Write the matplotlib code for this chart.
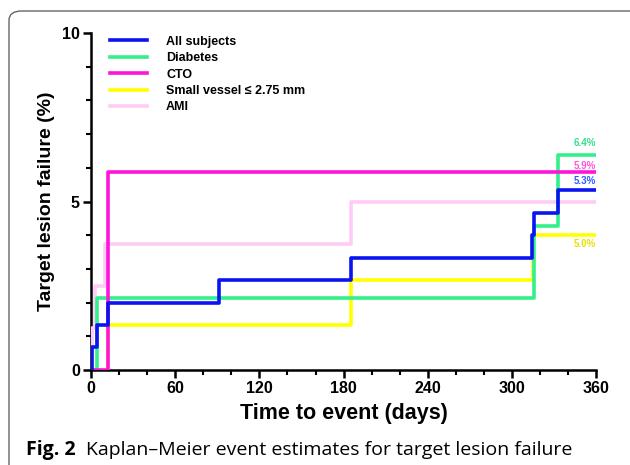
import matplotlib.pyplot as plt
from matplotlib.patches import FancyBboxPatch

# Kaplan-Meier step data (days, % event)
all_t = [0, 1, 4, 12, 91, 185, 314, 316, 333, 360]
all_y = [0, 0.67, 1.33, 2.0, 2.67, 3.33, 4.0, 4.67, 5.33, 5.33]

dia_t = [0, 4, 316, 333, 360]
dia_y = [0, 2.13, 4.26, 6.38, 6.38]

cto_t = [0, 12, 360]
cto_y = [0, 5.88, 5.88]

sv_t = [0, 12, 185, 315, 360]
sv_y = [0, 1.33, 2.67, 4.0, 4.0]

ami_t = [0, 1, 3, 10, 185, 360]
ami_y = [0, 1.25, 2.5, 3.75, 5.0, 5.0]

labels = ['All subjects', 'Diabetes', 'CTO', 'Small vessel \u2264 2.75 mm', 'AMI']
colors = ['#0a14f0', '#33f08a', '#ff14dc', '#ffff00', '#ffccf6']
end_labels = [('6.4%', 6.75, '#33e08a'), ('5.9%', 6.05, '#ff55dd'),
              ('5.3%', 5.6, '#2a5cff'), ('5.0%', 3.75, '#e8e000')]

plt.rcParams['font.family'] = ['Liberation Sans', 'DejaVu Sans']

fig = plt.figure(figsize=(6.3, 4.65), dpi=100)
ax = fig.add_axes([0.1444, 0.2043, 0.802, 0.7247])

series = [(all_t, all_y), (dia_t, dia_y), (cto_t, cto_y), (sv_t, sv_y), (ami_t, ami_y)]
order = [4, 3, 1, 2, 0]
for i in order:
    t, y = series[i]
    ax.step(t, y, where='post', color=colors[i], lw=2.6, zorder=3 + (i == 0))

handles = [plt.Line2D([], [], color=c, lw=2.6) for c in colors]
leg = ax.legend(handles, labels, loc='upper left', bbox_to_anchor=(0.015, 1.025),
                frameon=False, handlelength=3.0, handletextpad=1.5,
                labelspacing=0.35, prop={'weight': 'bold', 'size': 9})

for txt, yv, col in end_labels:
    ax.text(352, yv, txt, color=col, fontsize=7, fontweight='bold', ha='center', va='center')

ax.set_xlim(0, 360)
ax.set_ylim(0, 10)
ax.set_xticks(range(0, 361, 60))
ax.set_xticks(range(0, 361, 20), minor=True)
ax.set_yticks([0, 5, 10])
ax.set_yticks(range(0, 11), minor=True)
for s in ['top', 'right']:
    ax.spines[s].set_visible(False)
for s in ['left', 'bottom']:
    ax.spines[s].set_linewidth(1.8)
ax.tick_params(which='major', length=6, width=1.8, labelsize=11.5, pad=2)
ax.tick_params(which='minor', length=3.5, width=1.5)
for lbl in ax.get_xticklabels() + ax.get_yticklabels():
    lbl.set_fontweight('bold')
ax.set_xlabel('Time to event (days)', fontsize=15.5, fontweight='bold', labelpad=5)
ax.set_ylabel('Target lesion failure (%)', fontsize=14, fontweight='bold', labelpad=5)

# frame around figure
frame = FancyBboxPatch((9 / 630, -0.05), 1.2, 1 - 11 / 465 + 0.05,
                       boxstyle='round,pad=0,rounding_size=0.02',
                       transform=fig.transFigure, fill=False,
                       edgecolor='#666666', lw=1.0, clip_on=False)
fig.patches.append(frame)

fig.text(26 / 630, 1 - 455 / 465, 'Fig. 2', fontsize=14, fontweight='bold',
         family=['Open Sans', 'DejaVu Sans'], va='baseline')
fig.text(86 / 630, 1 - 455 / 465, 'Kaplan\u2013Meier event estimates for target lesion failure',
         fontsize=14, family=['Open Sans', 'DejaVu Sans'], va='baseline')

fig.savefig('out.png', dpi=100)
